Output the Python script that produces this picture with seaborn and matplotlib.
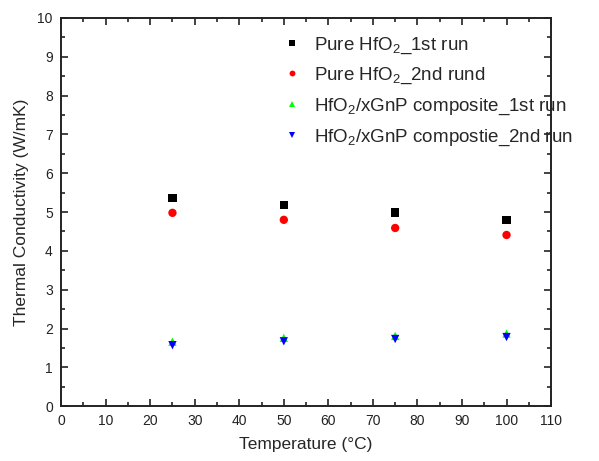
import matplotlib
matplotlib.use("Agg")
import matplotlib.pyplot as plt
from matplotlib.ticker import MultipleLocator
import seaborn as sns
import pandas as pd

# ---- data ----
temperature = [25, 50, 75, 100]
pure_1st = [5.36, 5.19, 4.99, 4.79]
pure_2nd = [4.98, 4.80, 4.59, 4.41]
comp_1st = [1.66, 1.76, 1.81, 1.87]
comp_2nd = [1.57, 1.67, 1.73, 1.78]

series_names = [
    r"Pure HfO$\mathregular{_2}$_1st run",
    r"Pure HfO$\mathregular{_2}$_2nd rund",
    r"HfO$\mathregular{_2}$/xGnP composite_1st run",
    r"HfO$\mathregular{_2}$/xGnP compostie_2nd run",
]
series_values = [pure_1st, pure_2nd, comp_1st, comp_2nd]
colors = ["#000000", "#ff0000", "#00ff00", "#0000ff"]
markers = ["s", "o", "^", "v"]

rows = []
for name, vals in zip(series_names, series_values):
    for t, v in zip(temperature, vals):
        rows.append({"Temperature": t, "k": v, "series": name})
df = pd.DataFrame(rows)

sns.set_style("ticks")
plt.rcParams["font.family"] = ["Liberation Sans", "DejaVu Sans"]
plt.rcParams["mathtext.fontset"] = "custom"
plt.rcParams["mathtext.rm"] = "Liberation Sans"

fig = plt.figure(figsize=(5.99, 4.61), dpi=100)
ax = fig.add_axes([0.102, 0.119, 0.818, 0.842])

sns.scatterplot(
    data=df, x="Temperature", y="k", hue="series", style="series",
    hue_order=series_names, style_order=series_names,
    palette=colors, markers=markers, s=36, linewidth=0, ax=ax,
)

ax.set_xlim(0, 110)
ax.set_ylim(0, 10)
ax.xaxis.set_major_locator(MultipleLocator(10))
ax.xaxis.set_minor_locator(MultipleLocator(5))
ax.yaxis.set_major_locator(MultipleLocator(1))
ax.yaxis.set_minor_locator(MultipleLocator(0.5))
ax.tick_params(which="both", direction="in", top=True, right=True,
               labelsize=10, width=1.2, colors="#222222", labelcolor="#222222")
ax.tick_params(which="major", length=5, pad=6)
ax.tick_params(which="minor", length=3)
for sp in ax.spines.values():
    sp.set_linewidth(1.4)
    sp.set_color("#222222")

ax.set_xlabel("Temperature (°C)", fontsize=12.5, labelpad=6)
ax.set_ylabel("Thermal Conductivity (W/mK)", fontsize=12.5, labelpad=6)

ax.legend(frameon=False, loc="upper left", bbox_to_anchor=(0.44, 0.975),
          fontsize=13.5, handlelength=0.8, handletextpad=0.8, labelspacing=0.55,
          markerscale=0.7, borderaxespad=0)

fig.savefig("out.png", dpi=100)
